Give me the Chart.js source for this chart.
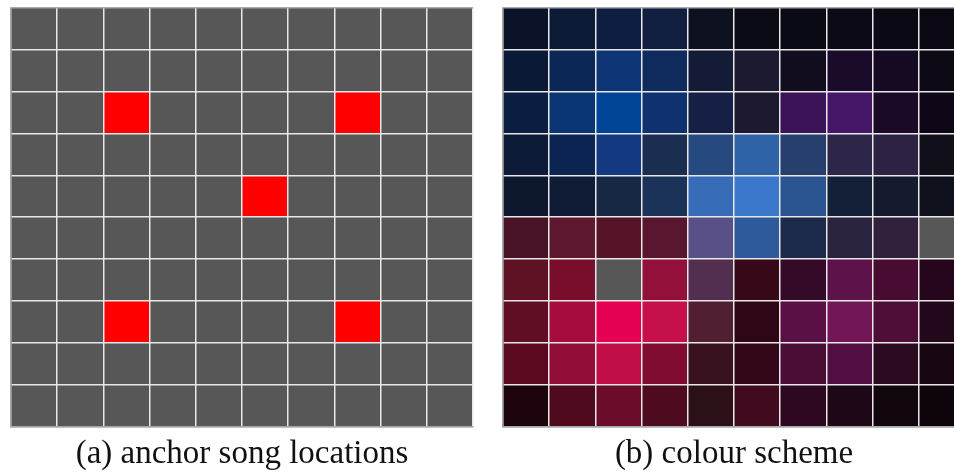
<!DOCTYPE html>
<html>
<head>
<meta charset="utf-8">
<script src="https://cdn.jsdelivr.net/npm/chart.js@4/dist/chart.umd.min.js"></script>
<style>
  html, body { margin: 0; padding: 0; background: #fff; overflow: hidden; }
  body { width: 954px; height: 475px; position: relative; }
  .panel { position: absolute; top: 0; width: 484px; height: 475px; }
</style>
</head>
<body>
<div class="panel" style="left:0px"><canvas id="anchorChart"></canvas></div>
<div class="panel" style="left:492px"><canvas id="colourChart"></canvas></div>
<script>
// grid is 10 x 10, rows counted from the top
const columns = ["0", "1", "2", "3", "4", "5", "6", "7", "8", "9"];
const rowCount = 10;

// anchor song cells (row, col)
const anchorRows = [2, 2, 4, 7, 7];
const anchorCols = [2, 7, 5, 2, 7];

// colour of each cell, top row first; null = empty cell
const colourRows = [
  ["#0a1328", "#0c1a36", "#0e1e42", "#111e40", "#0d1120", "#0a0b14", "#0a0a14", "#0c0a16", "#0b0914", "#0b0713"],
  ["#0a1a36", "#0b2756", "#0e3676", "#0f2a5c", "#141b36", "#1b1a30", "#110c1e", "#1a0b2a", "#150a22", "#0d0a16"],
  ["#0b1d40", "#0b3676", "#004596", "#0f3170", "#161f44", "#1c1930", "#3c1258", "#441668", "#1a0a28", "#0e0616"],
  ["#0e1b38", "#0c2452", "#133a80", "#1a2e52", "#264a80", "#2f62a6", "#263f6c", "#2e2648", "#2e2244", "#11101a"],
  ["#0d182e", "#101c36", "#162844", "#1b3358", "#366cb8", "#3b78cc", "#2a5590", "#132038", "#151a2e", "#0f111c"],
  ["#4a1428", "#5e1830", "#561428", "#581630", "#5a5088", "#2d5a9a", "#1e2a4c", "#2a243e", "#30203c", null],
  ["#5e1224", "#780e2c", null,      "#92103a", "#522e50", "#360818", "#340a28", "#5e124a", "#480c32", "#26061c"],
  ["#600e24", "#a60c3e", "#e60054", "#c6104a", "#521e32", "#2e0616", "#5a1044", "#721656", "#4e0e38", "#22081a"],
  ["#5c0a20", "#920e38", "#c00e46", "#800c32", "#38121e", "#34061a", "#4a0e36", "#520e42", "#2c0a20", "#180612"],
  ["#1e040c", "#500a1e", "#6a0c2a", "#4e0a1e", "#2c1018", "#420a1e", "#2e0820", "#1e0818", "#12060e", "#0e040c"]
];

const emptyColour = "#575757";
const anchorColour = "#ff0000";
const lineColour = "#e8e8e8";
const edgeColour = "#a8a8a8";

// one stacked dataset per row, bottom row first so row 0 ends on top
function makeDatasets(colourAt) {
  const sets = [];
  for (let r = rowCount - 1; r >= 0; r--) {
    sets.push({
      data: columns.map(() => 1),
      backgroundColor: columns.map((c, i) => colourAt(r, i)),
      borderWidth: 0,
      barPercentage: 1,
      categoryPercentage: 1
    });
  }
  return sets;
}

// outer lines grey, inner lines white
function lineColourAt(ctx) {
  return (ctx.index === 0 || ctx.index === rowCount) ? edgeColour : lineColour;
}

function gridOptions(caption) {
  return {
    responsive: true,
    maintainAspectRatio: false,
    animation: false,
    layout: { padding: { left: 11, right: 11, top: 8, bottom: 0 } },
    plugins: {
      legend: { display: false },
      tooltip: { enabled: false },
      title: {
        display: true,
        position: "bottom",
        text: caption,
        color: "#111",
        font: { family: "'Liberation Serif', 'DejaVu Serif', serif", size: 33, weight: "normal" },
        padding: { top: 8, bottom: 1 }
      }
    },
    scales: {
      x: {
        stacked: true,
        grid: { color: lineColourAt, lineWidth: 1.5, drawTicks: false, offset: true, z: 1 },
        border: { color: edgeColour, width: 1.5, z: 1 },
        ticks: { display: false }
      },
      y: {
        stacked: true,
        min: 0,
        max: rowCount,
        grid: { color: lineColourAt, lineWidth: 1.5, drawTicks: false, z: 1 },
        border: { color: edgeColour, width: 1.5, z: 1 },
        ticks: { display: false, stepSize: 1 }
      }
    }
  };
}

function isAnchor(r, c) {
  for (let k = 0; k < anchorRows.length; k++) {
    if (anchorRows[k] === r && anchorCols[k] === c) return true;
  }
  return false;
}

new Chart(document.getElementById("anchorChart"), {
  type: "bar",
  data: {
    labels: columns,
    datasets: makeDatasets((r, c) => isAnchor(r, c) ? anchorColour : emptyColour)
  },
  options: gridOptions("(a) anchor song locations")
});

new Chart(document.getElementById("colourChart"), {
  type: "bar",
  data: {
    labels: columns,
    datasets: makeDatasets((r, c) => colourRows[r][c] || emptyColour)
  },
  options: gridOptions("(b) colour scheme")
});
</script>
</body>
</html>
